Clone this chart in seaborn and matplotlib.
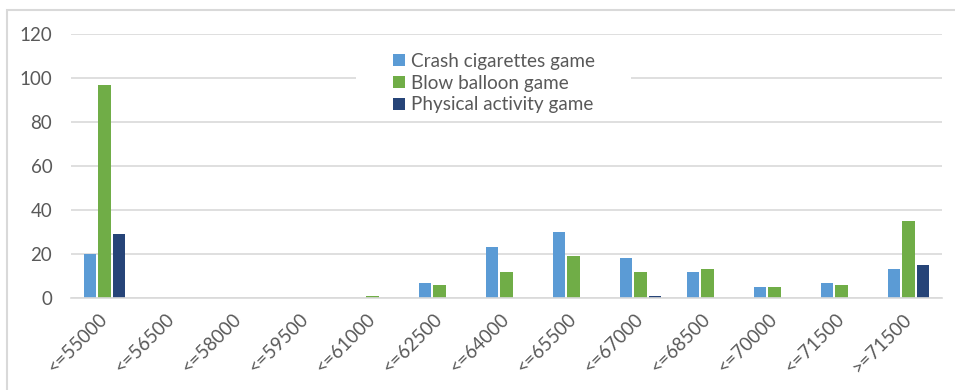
import matplotlib
matplotlib.use("Agg")
import matplotlib.pyplot as plt
import seaborn as sns
import pandas as pd
from matplotlib.patches import Rectangle, Patch

categories = ["<=55000", "<=56500", "<=58000", "<=59500", "<=61000", "<=62500",
              "<=64000", "<=65500", "<=67000", "<=68500", "<=70000", "<=71500", ">=71500"]
crash = [20, 0, 0, 0, 0, 7, 23, 30, 18, 12, 5, 7, 13]
balloon = [97, 0, 0, 0, 1, 6, 12, 19, 12, 13, 5, 6, 35]
physical = [29, 0, 0, 0, 0, 0, 0, 0, 1, 0, 0, 0, 15]
series_names = ["Crash cigarettes game", "Blow balloon game", "Physical activity game"]
colors = ["#5B9BD5", "#70AD47", "#264478"]

rows = []
for name, vals in zip(series_names, [crash, balloon, physical]):
    for c, v in zip(categories, vals):
        rows.append({"cat": c, "series": name, "value": v})
df = pd.DataFrame(rows)

sns.set_theme(style="white")
plt.rcParams["font.family"] = ["Lato", "DejaVu Sans"]
text_color = "#595959"
grid_color = "#D9D9D9"

W, H = 955, 390
fig = plt.figure(figsize=(W / 100, H / 100), dpi=100)
ax = fig.add_axes([71 / W, 92 / H, (942 - 71) / W, (298 - 34) / H])

sns.barplot(data=df, x="cat", y="value", hue="series", order=categories,
            hue_order=series_names, palette=colors, saturation=1, width=0.63, gap=0.14,
            linewidth=0, ax=ax, legend=False, zorder=2)

ax.set_ylim(0, 120)
ax.set_xlim(-0.5, len(categories) - 0.5)
ax.set_yticks(range(0, 121, 20))
ax.yaxis.grid(True, color=grid_color, linewidth=1.2)
ax.set_axisbelow(True)
for s in ["top", "right", "left"]:
    ax.spines[s].set_visible(False)
ax.spines["bottom"].set_color(grid_color)
ax.spines["bottom"].set_linewidth(1.2)
ax.set_xlabel("")
ax.set_ylabel("")
ax.tick_params(axis="y", length=0, pad=13.5, labelsize=13.5, labelcolor=text_color)
ax.tick_params(axis="x", length=0, pad=13, labelsize=13.5, labelcolor=text_color)
ax.set_xticks(range(len(categories)))
ax.set_xticklabels(categories, rotation=45, ha="right", va="center", rotation_mode="anchor")

# legend background (hides gridline behind legend)
x0 = (356 - 71) / 871
x1 = (631 - 71) / 871
y0 = (298 - 118) / 264
y1 = (298 - 42) / 264
ax.add_patch(Rectangle((x0, y0), x1 - x0, y1 - y0, transform=ax.transAxes,
                       facecolor="white", edgecolor="none", zorder=1.5))

handles = [Patch(facecolor=c, edgecolor="none") for c in colors]
leg = fig.legend(handles, series_names, loc="upper left",
                 bbox_to_anchor=(393 / W, 1 - 53 / H), frameon=False,
                 fontsize=13.6, handlelength=0.62, handleheight=0.62,
                 handletextpad=0.35, labelspacing=0.25, borderpad=0,
                 borderaxespad=0)
for t in leg.get_texts():
    t.set_color(text_color)

# outer chart border
fig.patches.append(Rectangle((7 / W, -0.1), 1.2, 1 - 10 / H + 0.1,
                             transform=fig.transFigure, facecolor="none",
                             edgecolor=grid_color, linewidth=1.5, zorder=0))

fig.savefig("out.png", dpi=100)
